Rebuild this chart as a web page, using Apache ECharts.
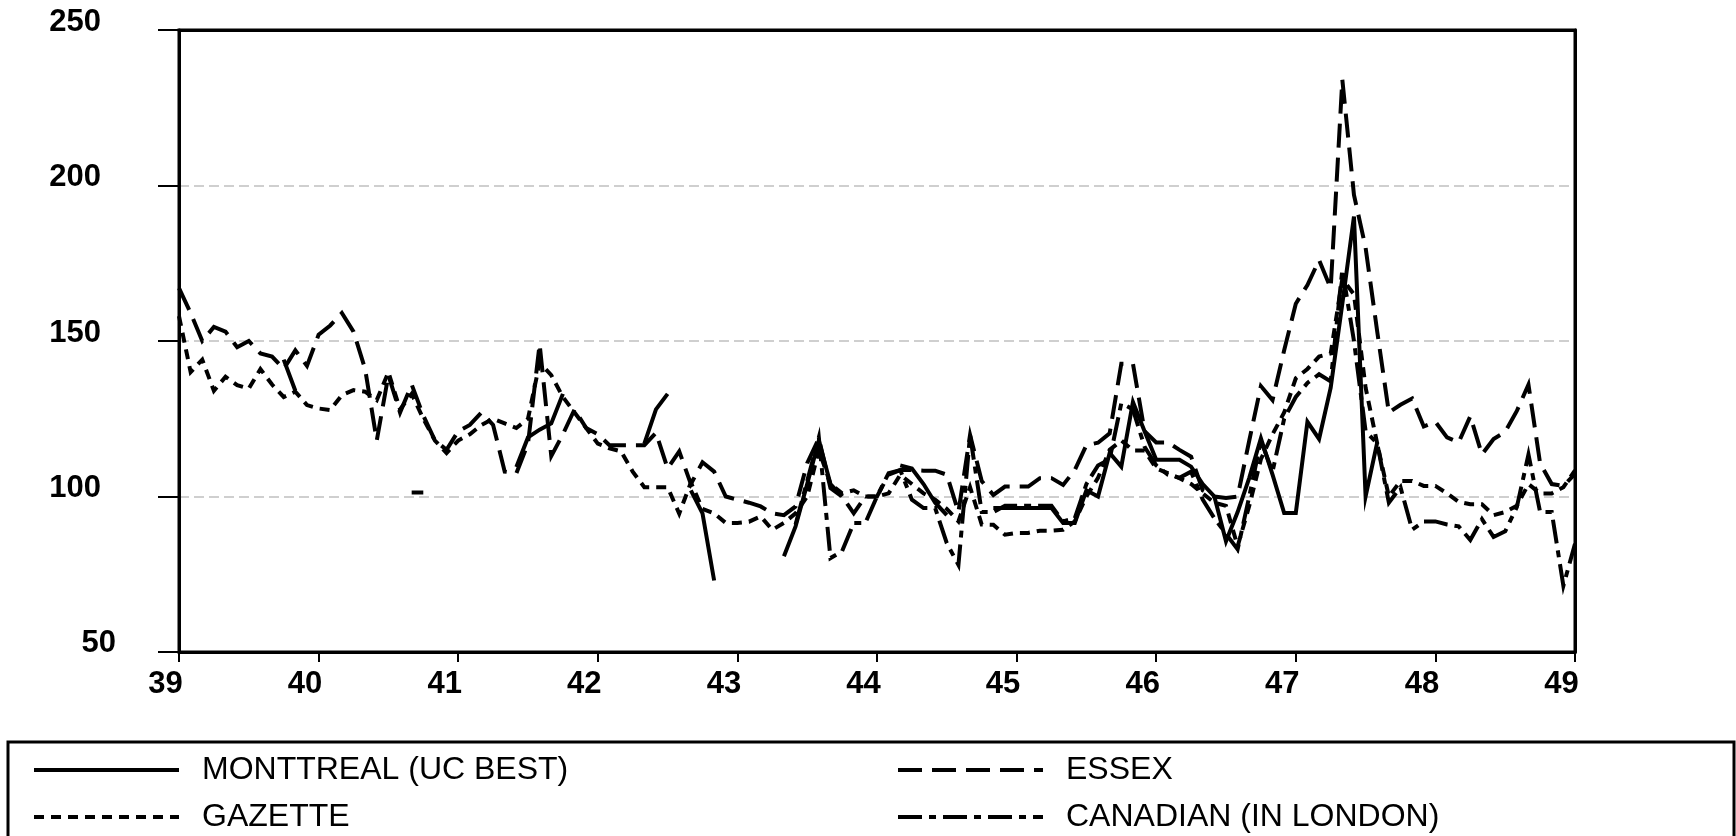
<!DOCTYPE html>
<html>
<head>
<meta charset="utf-8">
<script src="https://cdn.jsdelivr.net/npm/echarts@6/dist/echarts.min.js"></script>
<style>
  html, body { margin: 0; padding: 0; background: #fff; }
  #chart { width: 1736px; height: 836px; }
</style>
</head>
<body>
<div id="chart"></div>
<script>
// Monthly index values, January 1939 (39) to January 1949 (49); null = no quote that month.
const startYear = 39;

const montreal = [
  null, null, null, null, null, null, null, null, null, 144, 134, null,
  null, null, null, null, null, null, null, null, 101.3, 101.3, null, null,
  null, null, null, null, null, 109.5, 119, 121.5, 123.5, 133, null, null,
  null, null, null, null, 117, 128, 133, null, 102, 94.6, 73, null,
  null, null, null, null, 80.8, 90.4, 104, 118, 104, 100, null, null,
  null, null, 110, 109, 104, 98, 94, null, null, null, 96.3, 96.3,
  96.3, 96.3, 96.3, 96.3, 91.5, 91.5, 102, 100, 114, 109.6, 130.4, 121,
  111.8, 111.8, 111.8, 109.6, 104, 100, 85.6, 95, 106, 118.7, 107, 94.7,
  94.7, 124, 118.5, 135, 162, 190, 100, 117.4, null, null, null, null,
  null, null, null, null, null, null, null, null, null, null, null, null,
  null
];

const gazette = [
  158, 140, 144, 134, 138.5, 135.8, 134.7, 141, 136, 132, 133.7, 129.4,
  128.3, 127.8, 132.6, 134.2, 133.7, 131, 140, 128, 133, 125, 118, 114,
  118, 120, 123, 125, 123.5, 122, 125, 143, 139, 132, 127, 122,
  117, 115.5, 114.5, 108, 103, 103, 103, 94.5, 104.5, 96, 94.6, 91.5,
  91.5, 91.9, 93.6, 89.3, 91.5, 94.6, 100, 115, 104, 101, 102, 100,
  100, 101, 107, 104, 101, 99, 96, 92, 103, 91, 90.9, 87.7,
  88.3, 88.3, 89, 89, 89.3, 92, 100, 106, 115, 118, 114.8, 114.8,
  109, 107.5, 105.9, 104, 101, 98, 97, 84, 97, 112, 120, 127,
  138, 141, 145, 146, 170, 165, 135, 117, 100, 105, 105, 103.4,
  103.4, 101, 98.3, 97.5, 97.5, 94, 95, 97, 104, 101, 101, 103,
  108.4
];

const essex = [
  167, 159, 150, 154.5, 153, 148, 150, 146, 145, 141, 147, 142,
  152, 155, 159, 153, 141, 118, 139, 127, 136, 126, 118, 115,
  121, 123, 127, 123, 108, 107.5, 117, 149, 113, 120, 128, 122,
  120, 116.5, 116.5, 116.5, 116.5, 120.5, 109, 114.5, 104, 111, 108, 100,
  99, 98, 96.8, 94.6, 94, 96.8, 110.7, 118.7, 102.7, 100, 94.6, 100,
  100, 107, 108.5, 108.5, 108.3, 108.3, 107, 95, 119.8, 105, 100.5, 103.2,
  103.2, 103.2, 105.9, 105.9, 103.7, 108.5, 116.5, 117.3, 120.3, 142.7, 142.7, 121,
  117.4, 117.4, 115, 112.8, 102, 100, 99.5, 100, 118, 135.5, 131, 147,
  162, 168, 176, 167, 234, 197, 180, 153, 127, 129.5, 131.5, 122.5,
  124, 119, 117.4, 125.8, 113.5, 118.5, 120.8, 127.5, 136, 110.7, 104, 103.4,
  107.3
];

const canadian = [
  null, null, null, null, null, null, null, null, null, null, null, null,
  null, null, null, null, null, null, null, null, null, null, null, null,
  null, null, null, null, null, null, null, null, null, null, null, null,
  null, null, null, null, null, null, null, null, null, null, null, null,
  null, null, null, null, null, 91, 105, 119, 80.2, 82.4, 91.5, 91.5,
  100, 107.5, 108.5, 99, 96.3, 96.3, 85, 78, 119.8, 95, 95, 97,
  97, 97, 97, 97, 92, 93, 104, 110, 112, 130, 128, 116,
  110, 107, 106, 108, 99, 93, 88, 83, 100, 118, 108, 125,
  132, 136.5, 139.3, 137, 173, 150, 121, 117, 98, 103, 89.3, 92,
  92, 91, 90.4, 86, 92.7, 87, 88.8, 96.6, 113.5, 95, 95, 71.3,
  84.8
];

const names = {
  montreal: 'MONTTREAL (UC BEST)',
  gazette: 'GAZETTE',
  essex: 'ESSEX',
  canadian: 'CANADIAN (IN LONDON)'
};

const FONT = '"Liberation Sans", Arial, Helvetica, sans-serif';
const X_MIN = 39, X_MAX = 49, Y_MIN = 50, Y_MAX = 250;
const LINE_W = 4;

function monthly(values) {
  return values.map((v, i) => [startYear + i / 12, v]);
}

function lineSeries(name, values, dash, z) {
  return {
    name: name,
    type: 'line',
    data: monthly(values),
    symbol: 'none',
    showSymbol: false,
    connectNulls: false,
    z: z,
    lineStyle: { color: '#000', width: LINE_W, type: dash, cap: 'butt', join: 'miter' },
    itemStyle: { color: 'rgba(0,0,0,0)', borderColor: 'rgba(0,0,0,0)', borderWidth: 0 },
    emphasis: { disabled: true }
  };
}

const legendBase = {
  orient: 'vertical',
  top: 754,
  itemWidth: 145,
  itemHeight: 14,
  itemGap: 15,
  padding: 0,
  selectedMode: false,
  itemStyle: { color: 'rgba(0,0,0,0)', borderColor: 'rgba(0,0,0,0)', borderWidth: 0, opacity: 0 },
  lineStyle: { color: '#000', width: LINE_W },
  textStyle: { fontFamily: FONT, fontSize: 32, color: '#000', lineHeight: 30, padding: [0, 0, 0, 18] }
};

// Frame-only axes along the top and right edges, drawn over the grid lines.
const frameAxis = {
  show: true, silent: true, z: 10,
  axisLine: { show: true, onZero: false, lineStyle: { color: '#000', width: 3 } },
  axisTick: { show: false }, axisLabel: { show: false }, splitLine: { show: false }
};

const chart = echarts.init(document.getElementById('chart'), null, { renderer: 'canvas' });

chart.setOption({
  animation: false,
  backgroundColor: '#fff',
  grid: {
    left: 179, right: 161, top: 30, bottom: 184,
    show: true, borderColor: '#000', borderWidth: 3, backgroundColor: 'transparent'
  },
  xAxis: [{
    type: 'value', min: X_MIN, max: X_MAX, interval: 1, z: 10,
    axisLine: { show: true, onZero: false, lineStyle: { color: '#000', width: 3 } },
    axisTick: { show: true, length: 10, lineStyle: { color: '#000', width: 2 } },
    splitLine: { show: false },
    axisLabel: {
      margin: 17, color: '#000', fontFamily: FONT, fontSize: 31, fontWeight: 'bold',
      padding: [0, 27, 0, 0],
      formatter: v => String(v)
    }
  }, Object.assign({ type: 'value', position: 'top', min: X_MIN, max: X_MAX }, frameAxis)],
  yAxis: [{
    type: 'value', min: Y_MIN, max: Y_MAX, interval: 50,
    axisLine: { show: true, onZero: false, lineStyle: { color: '#000', width: 3 } },
    axisTick: { show: true, length: 21, lineStyle: { color: '#000', width: 2 } },
    splitLine: { show: true, lineStyle: { color: '#c0c0c0', width: 1.5, type: [10, 5] } },
    axisLabel: {
      margin: 63, color: '#000', fontFamily: FONT, fontSize: 31, fontWeight: 'bold',
      formatter: v => (v === 50 ? '{s|50}' : '{n|' + v + '}'),
      rich: {
        n: { fontFamily: FONT, fontSize: 31, fontWeight: 'bold', color: '#000', padding: [0, 15, 16, 0] },
        s: { fontFamily: FONT, fontSize: 31, fontWeight: 'bold', color: '#000', padding: [0, 0, 18, 0] }
      }
    }
  }, Object.assign({ type: 'value', position: 'right', min: Y_MIN, max: Y_MAX }, frameAxis)],
  legend: [
    Object.assign({}, legendBase, { left: 32, data: [names.montreal, names.gazette] }),
    Object.assign({}, legendBase, { left: 896, data: [names.essex, names.canadian] })
  ],
  graphic: [{
    type: 'rect',
    shape: { x: 8, y: 742, width: 1726, height: 120 },
    style: { fill: 'none', stroke: '#000', lineWidth: 3 },
    silent: true
  }],
  series: [
    lineSeries(names.gazette, gazette, [10, 7], 2),
    lineSeries(names.essex, essex, [24, 10], 3),
    lineSeries(names.canadian, canadian, [24, 7, 7, 7], 4),
    lineSeries(names.montreal, montreal, 'solid', 5)
  ]
});
</script>
</body>
</html>
